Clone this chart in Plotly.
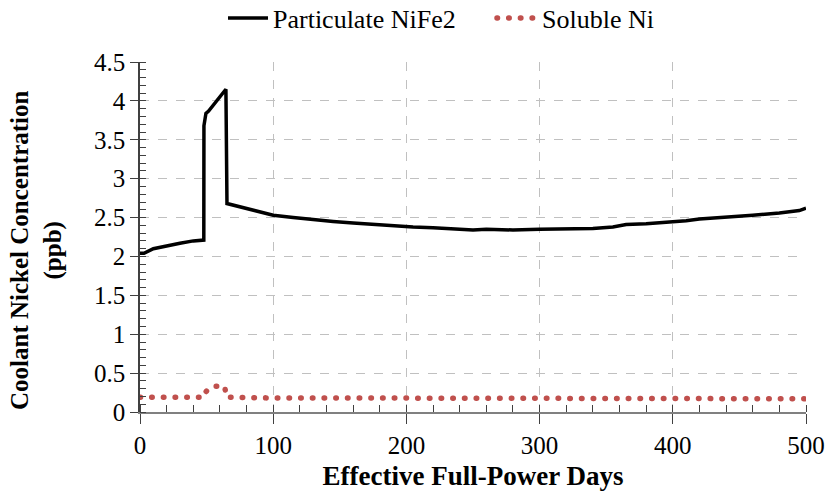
import plotly.graph_objects as go

# Particulate NiFe2 series
part_x = [0, 3, 10, 20, 30, 40, 47.9, 48.0, 49.5, 51.5, 64.5, 65.3, 75, 85, 100, 115, 130, 145, 160,
          175, 190, 205, 220, 235, 250, 260, 270, 280, 300, 320, 340, 355, 365, 380, 400, 410,
          420, 440, 460, 480, 495, 500]
part_y = [2.04, 2.04, 2.10, 2.14, 2.17, 2.20, 2.21, 3.68, 3.84, 3.87, 4.15, 2.68, 2.64, 2.59, 2.53,
          2.50, 2.47, 2.45, 2.43, 2.41, 2.39, 2.38, 2.37, 2.35, 2.34, 2.35, 2.345, 2.34, 2.35,
          2.36, 2.36, 2.38, 2.41, 2.42, 2.44, 2.46, 2.48, 2.50, 2.53, 2.56, 2.59, 2.62]

# Soluble Ni series
sol_x = [0, 20, 40, 47.9, 48.5, 50, 55, 63.5, 65, 80, 100, 150, 200, 250, 300, 350, 400, 450, 500]
sol_y = [0.19, 0.19, 0.19, 0.19, 0.24, 0.27, 0.33, 0.33, 0.19, 0.185, 0.18, 0.18, 0.18, 0.18, 0.18,
         0.175, 0.17, 0.17, 0.17]

x_ticks = [0, 100, 200, 300, 400, 500]
y_ticks = [0, 0.5, 1, 1.5, 2, 2.5, 3, 3.5, 4, 4.5]
y_tick_text = ["0", "0.5", "1", "1.5", "2", "2.5", "3", "3.5", "4", "4.5"]

font_family = "Liberation Serif"
red = "#C0504D"

fig = go.Figure()
fig.add_trace(go.Scatter(x=part_x, y=part_y, mode="lines", name="Particulate NiFe2",
                         line=dict(color="black", width=3.5)))
fig.add_trace(go.Scatter(x=sol_x, y=sol_y, mode="lines", name="Soluble Ni",
                         line=dict(color=red, width=5.5, dash="0.5px,11.2px")))

fig.update_layout(
    width=831, height=500,
    margin=dict(l=140, r=25, t=62, b=88),
    paper_bgcolor="white", plot_bgcolor="white",
    font=dict(family=font_family, size=24, color="black"),
    legend=dict(orientation="h", x=(223 - 140) / 666, xanchor="left", y=0.964, yanchor="middle",
                yref="container", font=dict(family=font_family, size=26), itemwidth=40,
                entrywidth=214, entrywidthmode="pixels", traceorder="normal"),
    xaxis=dict(
        range=[0, 500], tickvals=x_ticks, showline=True, linecolor="#808080", linewidth=1.5,
        ticks="outside", ticklen=10, tickcolor="#404040", automargin=False,
        minor=dict(dtick=20, ticks="inside", ticklen=7, tickcolor="#404040", showgrid=False),
        showgrid=True, gridcolor="#C0C0C0", griddash="dash", gridwidth=1,
        zeroline=False, tickfont=dict(family=font_family, size=25),
        title=dict(text="<b>Effective Full-Power Days</b>",
                   font=dict(family=font_family, size=27), standoff=8),
    ),
    yaxis=dict(
        range=[0, 4.5], tickvals=y_ticks, ticktext=y_tick_text, showline=True,
        linecolor="#404040", linewidth=1.5, automargin=False,
        ticks="outside", ticklen=8, tickcolor="#404040",
        minor=dict(dtick=0.1, ticks="inside", ticklen=6, tickcolor="#404040", showgrid=False),
        showgrid=True, gridcolor="#C0C0C0", griddash="dash", gridwidth=1,
        zeroline=False, tickfont=dict(family=font_family, size=25),
    ),
)

fig.add_annotation(
    text="<b>Coolant Nickel Concentration<br>(ppb)</b>",
    xref="paper", yref="paper", x=(36 - 140) / 666, y=(412 - 250) / 350,
    xanchor="center", yanchor="middle", textangle=-90, showarrow=False,
    font=dict(family=font_family, size=25, color="black"),
)

post = """
function roundDots(){
  document.querySelectorAll('path.js-line').forEach(function(p){
    var s = (p.style.stroke || '');
    if (s.indexOf('192, 80, 77') >= 0) { p.style.strokeLinecap = 'round'; }
  });
}
roundDots();
var gd = document.getElementsByClassName('plotly-graph-div')[0];
if (gd && gd.on) { gd.on('plotly_afterplot', roundDots); }
"""

fig.write_html("out.html", post_script=post)
